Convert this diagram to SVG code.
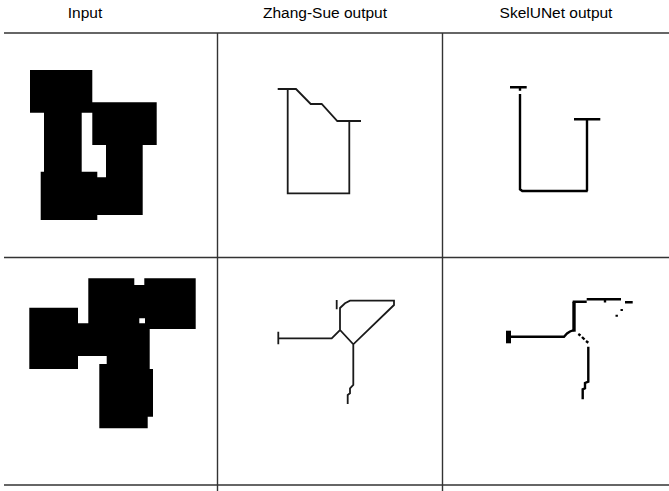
<svg xmlns="http://www.w3.org/2000/svg" width="669" height="491" viewBox="0 0 669 491">
<style>
.hdr{font-family:"Liberation Sans",Arial,sans-serif;font-size:15.5px;fill:#000;text-anchor:middle}
.rule{stroke:#333;stroke-width:1.4;fill:none}
.blob{fill:#000;fill-rule:evenodd}
.zs{stroke:#1a1a1a;stroke-width:1.8;fill:none;stroke-linejoin:miter}
.su{stroke:#000;stroke-width:2.4;fill:none;stroke-linejoin:miter}
</style>
<rect width="669" height="491" fill="#fff"/>
<g id="header">
<text class="hdr" x="85" y="18">Input</text>
<text class="hdr" x="325" y="18">Zhang-Sue output</text>
<text class="hdr" x="556" y="18">SkelUNet output</text>
</g>
<g id="grid">
<line class="rule" x1="4" y1="33" x2="669" y2="33"/>
<line class="rule" x1="4" y1="257.5" x2="669" y2="257.5"/>
<line class="rule" x1="4" y1="485" x2="669" y2="485"/>
<line class="rule" x1="217.5" y1="33" x2="217.5" y2="491"/>
<line class="rule" x1="442.5" y1="33" x2="442.5" y2="491"/>
</g>
<g id="input1">
<path class="blob" d="M30,70 H92.3 V102.3 H156.7 V145 H142.7 V215 H97.3 V220 H40.7 V171.7 H44 V112.7 H30 Z M81.7,112.7 H92.3 V145 H106 V177.3 H97.3 V171.7 H81.7 Z"/>
</g>
<g id="zhang1">
<path class="zs" d="M277.7,89 H296 L310.7,104 H321.7 L337.3,121 H361 M287.7,89 V193.3 H349.3 V121"/>
</g>
<g id="skel1">
<path class="su" d="M510,87.3 H526.7 M520,87.3 V90.7 M520,94 V189.3 L522.3,191 H587.7 M587,191 V119.3 M574,119.3 H600.3"/>
</g>
<g id="input2">
<path class="blob" d="M88.3,278.3 H134.3 V285 H144.3 V278.3 H195.7 V329 H149.7 V369 H153 V416.7 H147.7 V428.3 H99.3 V364 H106.7 V356 H78 V369 H29.3 V307.7 H78 V323.3 H88.3 Z M139.3,318.3 H145 V323.3 H139.3 Z"/>
</g>
<g id="zhang2">
<path class="zs" d="M278.3,331.7 V344.3 M278.3,338.3 H331.7 L340,330 L353.3,344.3 L394,305 V300.7 H350 L345,303.3 L340,308 V330 M336.7,300 V309.3 M353.3,344.3 V385 L350,388.3 V393.3 L347.7,395 V404"/>
</g>
<g id="skel2">
<rect x="506" y="330.7" width="5" height="12.6" fill="#000"/>
<path class="su" d="M508,336.7 H564 L567,333.5 L570,331.5 L574,330"/>
<path d="M574,301.7 V331.7" stroke="#000" stroke-width="3.4" fill="none"/>
<path class="su" d="M572.7,301.7 H586.7 M586.7,299.3 H621 M605,299.3 V302.5 M625,302.3 H632.7 M621.7,309 V311 M616.7,314.7 V316.7"/>
<path class="su" d="M578.3,334 L580.5,335.5 M582,337 L584.5,339.5 M586,341 L588.3,342.7"/>
<path class="su" d="M588.3,346.7 V381.7 L585,383 V388.3 L582.7,389.3 V399.3"/>
</g>
</svg>
